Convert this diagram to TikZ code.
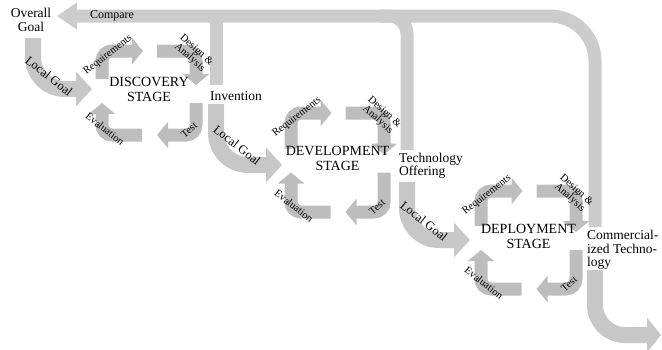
\documentclass[tikz,border=0pt]{standalone}
\usepackage{fontspec}
\setmainfont{Liberation Serif}
\usetikzlibrary{arrows.meta}

\begin{document}
\begin{tikzpicture}[x=1pt, y=-1pt,
    bar/.style={draw=black!20, line width=13pt, rounded corners=45pt},
    goal/.style={draw=black!22, line width=16pt, rounded corners=32pt, -{Triangle[length=16pt,width=34pt]}},
    loop/.style={draw=black!26, line width=13pt, rounded corners=10pt, -{Triangle[length=11pt,width=26pt]}},
    lbl/.style={font=\fontsize{13.5}{13.5}\selectfont, inner sep=0pt, align=left},
    small/.style={font=\fontsize{10.5}{10}\selectfont, inner sep=0pt, align=center},
    stage/.style={font=\fontsize{14}{15}\selectfont, inner sep=0pt, align=center}]
    \useasboundingbox (0,0) rectangle (662,349);

    % Compare loop back to the overall goal
    \draw[bar, -{Triangle[length=20pt,width=26pt]}] (595,227) |- (57,16);
    \draw[bar] (216,85) -- (216,16);
    \draw[bar, rounded corners=18pt] (407,150) |- (380,16);
    \draw[goal, rounded corners=30pt, -{Triangle[length=14pt,width=34pt]}] (595,270) |- (661,335);

    % Local goals into each stage
    \draw[goal] (33,38) |- (92,89);
    \draw[goal] (216,104) |- (282,165);
    \draw[goal] (407,182) |- (470,240);

    % The three stages
    \foreach \L/\T/\R/\B/\s/\name in {102/51/196/135/disc/DISCOVERY,
        291/113/384/212/dev/DEVELOPMENT, 481/191/576/289/depl/DEPLOYMENT} {
        \pgfmathsetmacro{\mx}{(\L+\R)/2}
        \pgfmathsetmacro{\my}{(\T+\B)/2}
        \draw[loop] (\L,\my-14) |- (\mx-6,\T);
        \draw[loop] (\mx+8,\T) -| (\R,\my-8);
        \draw[loop] (\R,\my+10) |- (\mx+8,\B);
        \draw[loop] (\mx-7,\B) -| (\L,\my+10);
        \node[small, rotate=38] (req-\s) at (\L+6,\T+4) {Requirements};
        \node[small, rotate=-42] (design-\s) at (\R-3,\T+3) {Design \&\\Analysis};
        \node[small, rotate=40] (test-\s) at (\R-7,\B-5) {Test};
        \node[small, rotate=-38] (eval-\s) at (\L+3,\B-6) {Evaluation};
        \node[stage] (stage-\s) at (\mx,\my-4) {\name\\STAGE};
    }

    % Labels
    \node[lbl, align=center] (overall) at (31,20) {Overall\\Goal};
    \node[lbl, font=\fontsize{12}{12}\selectfont] (compare) at (112,16) {Compare};
    \node[lbl, anchor=west] (invention) at (210,96) {Invention};
    \node[lbl, anchor=west] (offering) at (399,166) {Technology\\Offering};
    \node[lbl, anchor=west] (commercial) at (587,250) {Commercial-\\ized Techno-\\logy};
    \node[lbl, font=\fontsize{12.5}{12}\selectfont, rotate=-38] (goal-disc) at (49,76) {Local Goal};
    \node[lbl, font=\fontsize{12.5}{12}\selectfont, rotate=-38] (goal-dev) at (237,145) {Local Goal};
    \node[lbl, font=\fontsize{12.5}{12}\selectfont, rotate=-38] (goal-depl) at (424,221) {Local Goal};
\end{tikzpicture}
\end{document}
